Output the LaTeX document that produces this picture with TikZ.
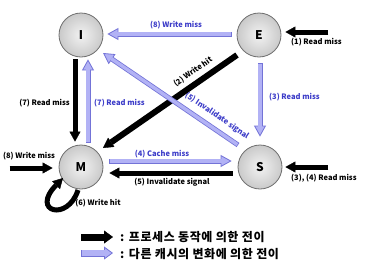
\documentclass[tikz,border=0pt]{standalone}
\usepackage{fontspec}
\setmainfont{Noto Sans CJK KR}
\usetikzlibrary{arrows.meta,calc}
\definecolor{bluefill}{RGB}{178,178,245}
\definecolor{blueedge}{RGB}{115,115,215}
\definecolor{bluetext}{RGB}{60,60,200}
\definecolor{ringgray}{RGB}{110,110,110}
\begin{document}
\begin{tikzpicture}[x=1pt,y=-1pt,
 state/.style={circle, minimum size=44pt, inner sep=0pt, draw=ringgray, line width=0.8pt, inner color=gray!10, outer color=gray!42, font=\fontsize{12}{12}\selectfont\bfseries},
 lbl/.style={font=\fontsize{7.5}{8}\selectfont\bfseries, inner sep=1pt},
 blbl/.style={lbl, text=bluetext},
 legtext/.style={font=\fontsize{12}{13}\selectfont\bfseries\addfontfeature{LetterSpace=5}, anchor=west, inner sep=0pt},
 blackarr/.style={draw=black, line width=5pt, -{Triangle[length=10pt,width=11pt,line width=0.4pt]}},
 bluearr/.style={draw=blueedge, line width=5pt, -{Triangle[length=11pt,width=12pt,line width=0.8pt,fill=bluefill]}, postaction={draw=bluefill, line width=3.4pt, -, shorten >=10pt, shorten <=0.8pt}},
]
\useasboundingbox (0,0) rectangle (380,263);

% states
\node[state] (I) at (81,35) {I};
\node[state] (E) at (259,35) {E};
\node[state] (M) at (81,167) {M};
\node[state] (S) at (260,167) {S};

% arrows
\draw[bluearr] ($(E.west)+(-5,-1)$) -- ($(I.east)+(4,-1)$);
\draw[blackarr] ($(E.east)+(47,-3)$) -- ($(E.east)+(4,-3)$);
\draw[bluearr] ($(E.south)+(1,6)$) -- ($(S.north)+(0,-8)$);
\draw[blackarr, line width=6pt] ($(E)+(-22,20)$) -- ($(M)+(22,-19)$);
\draw[bluearr] ($(S)+(-22,-22)$) -- ($(I)+(22,18)$);
\draw[blackarr] ($(I.south)+(-6,2)$) -- ($(M.north)+(-6,-3)$);
\draw[bluearr] ($(M.north)+(7,-2)$) -- ($(I.south)+(7,2)$);
\draw[bluearr] ($(M.east)+(6,-6)$) -- ($(S.west)+(-6,-6)$);
\draw[blackarr] ($(S.west)+(-5,6)$) -- ($(M.east)+(6,6)$);
\draw[blackarr] ($(M.west)+(-49,1)$) -- ($(M.west)+(-6,1)$);
\draw[blackarr] ($(S.east)+(46,0)$) -- ($(S.east)+(3,0)$);
\draw[blackarr] ($(M)+(-3,23)$) .. controls (68,222) and (30,212) .. ($(M)+(-18,11)$);

% labels
\node[blbl] (l8w) at (176,25) {(8) Write miss};
\node[lbl, anchor=west] (l1) at (290,42) {(1) Read miss};
\node[blbl, anchor=west] (l3) at (268,97) {(3) Read miss};
\node[lbl, rotate=34.8] (l2) at (193,72) {(2) Write hit};
\node[blbl, rotate=-34.3] (l5d) at (217,116) {(5) Invalidate signal};
\node[lbl, anchor=east] (l7b) at (71,103) {(7) Read miss};
\node[blbl, anchor=west] (l7u) at (93,103) {(7) Read miss};
\node[blbl] (l4) at (162,154) {(4) Cache miss};
\node[lbl] (l5) at (172,182) {(5) Invalidate signal};
\node[lbl] (l8) at (29,156) {(8) Write miss};
\node[lbl, anchor=west] (l34) at (290,178) {(3), (4) Read miss};
\node[lbl] (l6) at (98,203) {(6) Write hit};

% legend
\node[legtext] (leg1) at (120,237) {: 프로세스 동작에 의한 전이};
\node[legtext] (leg2) at (120,254) {: 다른 캐시의 변화에 의한 전이};
\draw[draw=black, line width=7pt, -{Triangle[length=9pt,width=13pt,line width=0.4pt]}] ($(leg1.west)+(-39,0)$) -- ($(leg1.west)+(-7,0)$);
\draw[draw=blueedge, line width=7pt, -{Triangle[length=9pt,width=13pt,line width=0.8pt,fill=bluefill]}, postaction={draw=bluefill, line width=5.4pt, -, shorten >=8pt, shorten <=0.8pt}] ($(leg2.west)+(-39,-1)$) -- ($(leg2.west)+(-7,-1)$);
\end{tikzpicture}
\end{document}
